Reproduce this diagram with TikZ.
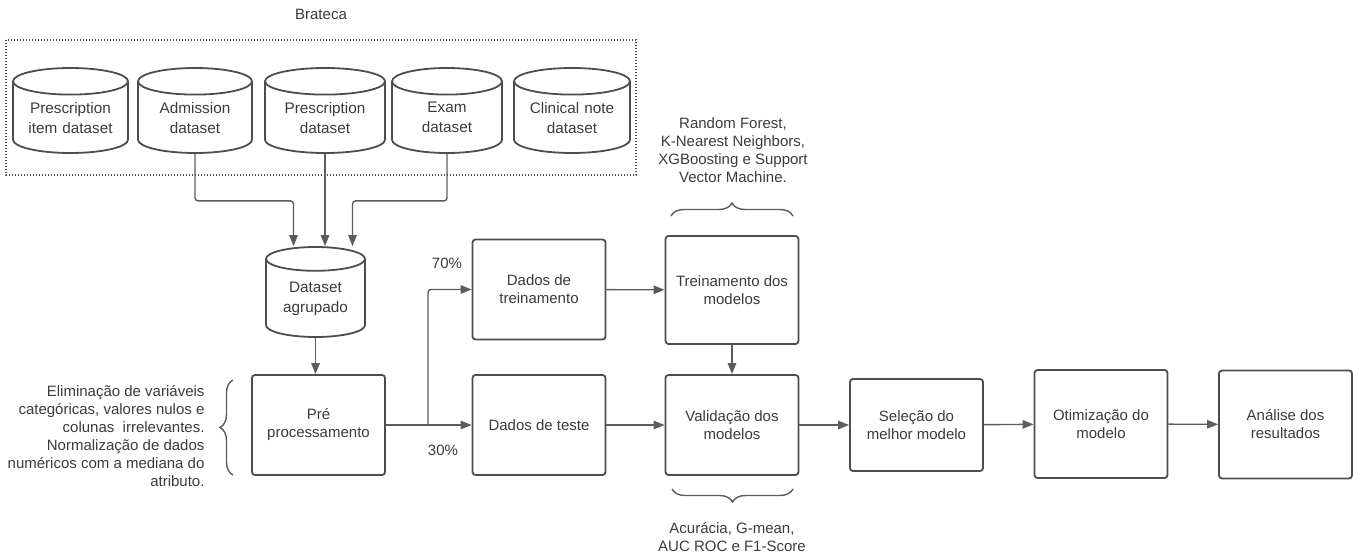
\documentclass[tikz,border=0pt]{standalone}
\usepackage{fontspec}
\setmainfont{Liberation Sans}
\usetikzlibrary{positioning,shapes.geometric,arrows.meta,calc,decorations.pathreplacing}

\definecolor{boxgray}{HTML}{4D4D4D}
\definecolor{linegray}{HTML}{5C5C5C}
\definecolor{txtgray}{HTML}{3B3B3B}

\begin{document}
\begin{tikzpicture}[x=1pt,y=-1pt,
  every node/.style={font=\fontsize{15}{18}\selectfont, text=txtgray},
  proc/.style={draw=boxgray, line width=1.8pt, rounded corners=3pt, minimum width=133pt, minimum height=100pt, align=center, inner sep=0pt},
  db/.style={cylinder, shape border rotate=90, aspect=0.28, draw=boxgray, line width=1.8pt, minimum height=85pt, text width=95pt, align=center, inner sep=0pt, anchor=shape center, font=\fontsize{15.3}{20}\selectfont},
  arr/.style={draw=linegray, line width=1.4pt, -{Triangle[length=11pt,width=8.5pt]}},
  brc/.style={draw=linegray, line width=1.4pt, decorate, decoration={brace, amplitude=13pt}},
  dotbox/.style={draw=boxgray, line width=1.4pt, dash pattern=on 1.4pt off 1.6pt}
]
  \useasboundingbox (0,0) rectangle (1353,554);

  % Brateca sources
  \draw[dotbox] (6,40) rectangle (636,175);
  \node (brateca) at (321,14) {Brateca};
  \node[db, minimum width=115pt] (itens) at (70.5,110.5) {Prescription\\item dataset};
  \node[db, minimum width=114pt] (admissao) at (195,110.5) {Admission\\dataset};
  \node[db, minimum width=120pt] (prescricao) at (325,110.5) {Prescription\\dataset};
  \node[db, minimum width=110pt] (exame) at (447,110.5) {Exam\\dataset};
  \node[db, minimum width=116pt] (nota) at (572,110.5) {Clinical note\\dataset};

  % merged dataset and pre-processing
  \node[db, minimum width=99pt, minimum height=90pt, text width=85pt] (agrupado) at (315.5,292) {Dataset\\agrupado};
  \node[proc] (pre) at (318.5,425) {Pré\\processamento};
  \node[align=right, anchor=east] (pretxt) at (208,436) {Eliminação de variáveis\\categóricas, valores nulos e\\colunas\ \ irrelevantes.\\Normalização de dados\\numéricos com a mediana do\\atributo.};
  \draw[brc] (233,475) -- (233,380);

  % split
  \node[proc] (treino) at (539,289.5) {Dados de\\treinamento};
  \node[proc] (teste) at (539,425) {Dados de teste};
  \coordinate (split) at (428,425);
  \node (p70) at (447,263) {70\%};
  \node (p30) at (443,450) {30\%};

  % models
  \node[proc, minimum height=108pt] (treinamento) at (732,290) {Treinamento dos\\modelos};
  \node[proc] (validacao) at (732,425) {Validação dos\\modelos};
  \node[align=center] (modelos) at (733,150) {Random Forest,\\K-Nearest Neighbors,\\XGBoosting e Support\\Vector Machine.};
  \draw[brc] (671,216) -- (793,216);
  \draw[brc] (793,489) -- (672,489);
  \node[align=center] (metricas) at (732,537) {Acurácia, G-mean,\\AUC ROC e F1-Score};

  % final steps
  \node[proc, minimum height=92pt] (selecao) at (916.5,425) {Seleção do\\melhor modelo};
  \node[proc, minimum height=108pt] (otimizacao) at (1101,424) {Otimização do\\modelo};
  \node[proc, minimum height=108pt] (analise) at (1285.5,424.5) {Análise dos\\resultados};

  % connectors
  \draw[arr, rounded corners=3pt] (admissao.south) -- ++(0,47) -| ([xshift=-22pt]agrupado.north);
  \draw[arr] (prescricao.south) -- (prescricao.south |- agrupado.north);
  \draw[arr, rounded corners=3pt] (exame.south) -- ++(0,47) -| ([xshift=37pt]agrupado.north);
  \draw[arr] (agrupado.south) -- (agrupado.south |- pre.north);
  \draw[arr] (pre) -- (teste);
  \draw[arr, rounded corners=3pt] (split) |- (treino.west);
  \draw[arr] (treino) -- (treinamento);
  \draw[arr] (treinamento) -- (validacao);
  \draw[arr] (teste) -- (validacao);
  \draw[arr] (validacao) -- (selecao);
  \draw[arr] (selecao) -- (otimizacao);
  \draw[arr] (otimizacao) -- (analise);
\end{tikzpicture}
\end{document}
